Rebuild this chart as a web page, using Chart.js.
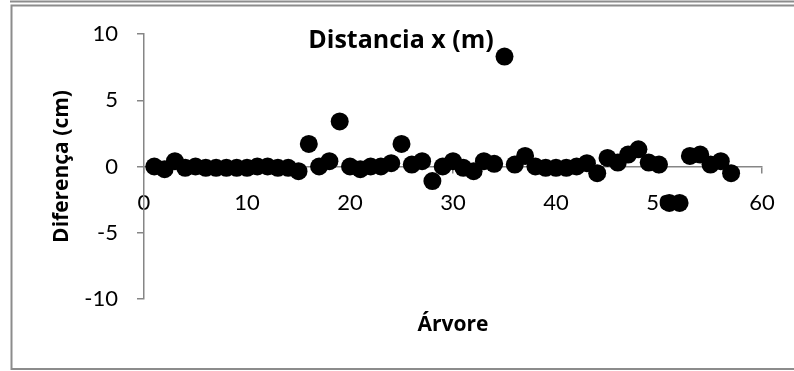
<!DOCTYPE html>
<html>
<head>
<meta charset="utf-8">
<script src="https://cdn.jsdelivr.net/npm/chart.js@4/dist/chart.umd.min.js"></script>
<style>
  html, body { margin: 0; padding: 0; background: #fff; }
  #wrap { width: 794px; height: 371px; }
</style>
</head>
<body>
<div id="wrap"><canvas id="scatter"></canvas></div>
<script>
var trees = [1,2,3,4,5,6,7,8,9,10,11,12,13,14,15,16,17,18,19,20,21,22,23,24,25,26,27,28,29,30,31,32,33,34,35,36,37,38,39,40,41,42,43,44,45,46,47,48,49,50,51,52,53,54,55,56,57];
var diffs = [0,-0.2,0.4,-0.1,0,-0.1,-0.1,-0.1,-0.1,-0.1,0,0,-0.1,-0.1,-0.35,1.7,0,0.4,3.4,0,-0.2,0,0,0.25,1.7,0.15,0.4,-1.1,0,0.4,-0.1,-0.35,0.4,0.2,8.3,0.15,0.8,0,-0.1,-0.1,-0.1,0,0.25,-0.5,0.65,0.3,0.9,1.3,0.3,0.15,-2.75,-2.75,0.8,0.9,0.15,0.4,-0.5];
var xTicks = [0,10,20,30,40,50,60];
var yTicks = [-10,-5,0,5,10];

var axisGray = '#868686';

// frame + title drawn like the excel chart
var excelFrame = {
  id: 'excelFrame',
  beforeDraw: function(chart) {
    var ctx = chart.ctx;
    ctx.save();
    ctx.strokeStyle = '#8c8c8c';
    ctx.lineWidth = 2;
    ctx.beginPath();
    ctx.moveTo(10, 1.5); ctx.lineTo(794, 1.5);
    ctx.moveTo(794, 5.5); ctx.lineTo(11.5, 5.5); ctx.lineTo(11.5, 369); ctx.lineTo(794, 369);
    ctx.stroke();
    ctx.restore();
  },
  beforeDatasetsDraw: function(chart) {
    var ctx = chart.ctx;
    ctx.save();
    ctx.font = 'bold 25px "Open Sans"';
    ctx.fillStyle = '#000';
    ctx.textAlign = 'center';
    ctx.textBaseline = 'middle';
    ctx.fillText('Distancia x (m)', chart.width / 2 + 4, chart.chartArea.top + 7);
    ctx.restore();
  }
};

var scatter = new Chart(document.getElementById('scatter'), {
  type: 'scatter',
  data: {
    datasets: [{
      label: 'Distancia x (m)',
      data: trees.map(function(t, i) { return {x: t, y: diffs[i]}; }),
      backgroundColor: '#000',
      borderColor: '#000',
      borderWidth: 0,
      pointRadius: 9,
      pointHoverRadius: 9
    }]
  },
  options: {
    responsive: true,
    maintainAspectRatio: false,
    animation: false,
    layout: { padding: { top: 34, right: 32, left: 0, bottom: 0 } },
    plugins: { legend: { display: false }, title: { display: false }, tooltip: { enabled: false } },
    scales: {
      x: {
        type: 'linear',
        position: { y: 0 },
        min: 0, max: 60,
        afterBuildTicks: function(s) { s.ticks = xTicks.map(function(v) { return {value: v}; }); },
        grid: { drawOnChartArea: false, tickLength: 6, color: axisGray, lineWidth: 1.5 },
        border: { color: axisGray, width: 1.5 },
        ticks: { color: '#000', font: { family: 'Lato', size: 22 }, padding: 17, maxRotation: 0 }
      },
      x2: {
        type: 'linear',
        position: 'bottom',
        min: 0, max: 60,
        grid: { display: false },
        border: { display: false },
        ticks: { display: false },
        title: { display: true, text: 'Árvore', color: '#000', font: { family: 'Open Sans', size: 21, weight: 'bold' }, padding: { top: 0, bottom: 33 } },
        afterFit: function(s) { s.height = 72; }
      },
      y: {
        min: -10, max: 10,
        afterBuildTicks: function(s) { s.ticks = yTicks.map(function(v) { return {value: v}; }); },
        grid: { drawOnChartArea: false, tickLength: 7, color: axisGray, lineWidth: 1.5 },
        border: { color: axisGray, width: 1.5 },
        ticks: { color: '#000', font: { family: 'Lato', size: 22 }, padding: 19 },
        title: { display: true, text: 'Diferença (cm)', color: '#000', font: { family: 'Open Sans', size: 21, weight: 'bold' }, padding: { top: 49, bottom: 0 } },
        afterFit: function(s) { s.width = 144; }
      }
    }
  },
  plugins: [excelFrame]
});
</script>
</body>
</html>
